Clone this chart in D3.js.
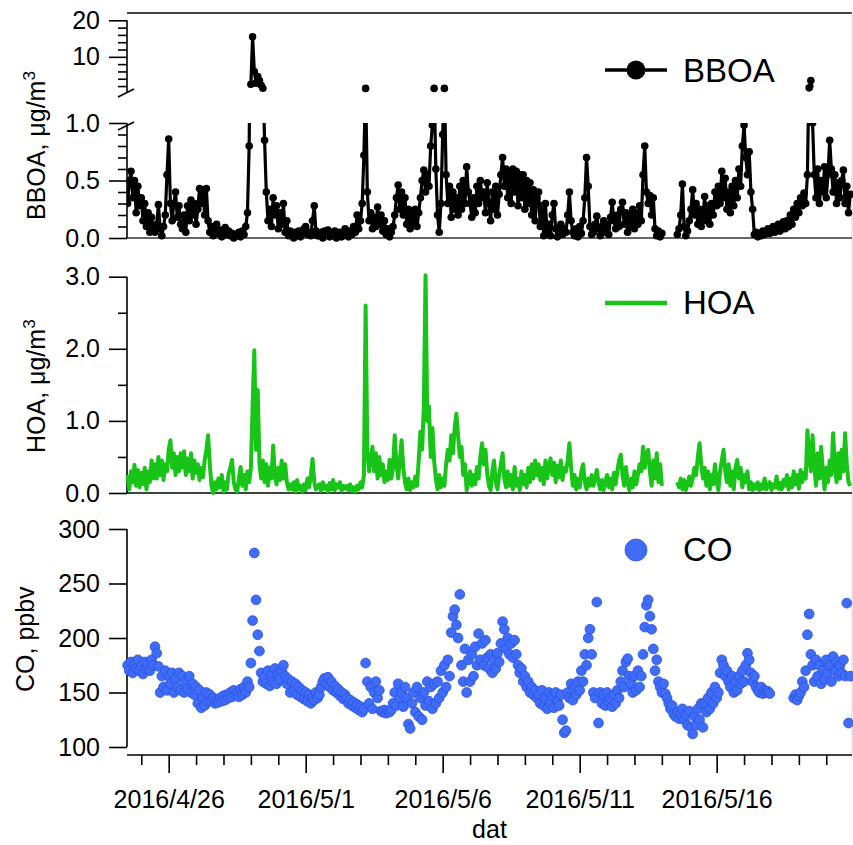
<!DOCTYPE html>
<html><head><meta charset="utf-8">
<script src="https://cdn.jsdelivr.net/npm/d3@7"></script>
<style>
body{margin:0;background:#fff}
svg{display:block}
text{font-family:"Liberation Sans",Arial,Helvetica,sans-serif;fill:#000}
</style>
</head><body>
<svg id="chart" width="853" height="845"></svg>
<script>
// ---- time axis (categories) ----
const startTime = new Date(2016, 3, 24, 12, 0);   // first sample, 2016/4/24 12:00
const stepMinutes = 90;                           // sampling step of the arrays below

// ---- series values (one row = one day, 16 samples) ----
const bboa = [
  0.30,0.50,0.58,0.35,0.50,0.22,0.45,0.28,0.35,0.15,0.30,0.10,0.22,0.05,0.18,0.08,
  0.05,0.12,0.29,0.08,0.02,0.10,0.20,0.55,0.86,0.30,0.15,0.30,0.40,0.18,0.28,0.12,
  0.08,0.20,0.05,0.28,0.15,0.33,0.20,0.30,0.12,0.25,0.43,0.30,0.42,0.20,0.43,0.15,
  0.05,0.10,0.02,0.08,0.12,0.04,0.07,0.01,0.05,0.09,0.03,0.06,0.02,0.04,0.00,0.03,
  0.02,0.05,0.01,0.06,0.03,0.10,0.22,0.80,2.5,15.5,6.0,2.8,4.6,3.5,2.2,1.4,
  0.85,0.40,0.15,0.25,0.10,0.35,0.20,0.28,0.08,0.22,0.12,0.30,0.05,0.15,0.02,0.06,
  0.03,0.00,0.05,0.02,0.06,0.01,0.04,0.08,0.10,0.03,0.05,0.02,0.15,0.28,0.06,0.02,
  0.02,0.05,0.00,0.06,0.03,0.07,0.01,0.04,0.02,0.06,0.00,0.03,0.05,0.01,0.04,0.08,
  0.04,0.01,0.06,0.03,0.10,0.05,0.20,0.08,0.15,0.30,0.72,1.35,0.40,0.15,0.22,0.08,
  0.18,0.10,0.27,0.12,0.20,0.06,0.15,0.03,0.08,0.01,0.05,0.10,0.20,0.35,0.46,0.25,
  0.40,0.20,0.35,0.12,0.25,0.08,0.20,0.12,0.25,0.10,0.22,0.35,0.50,0.59,0.40,0.55,
  0.45,0.80,0.98,1.35,0.60,0.20,0.05,0.30,0.90,1.35,0.55,0.30,0.45,0.18,0.40,0.25,
  0.35,0.20,0.45,0.25,0.50,0.30,0.62,0.40,0.30,0.18,0.35,0.22,0.45,0.30,0.50,0.35,
  0.40,0.22,0.48,0.30,0.15,0.40,0.25,0.45,0.20,0.38,0.55,0.70,0.45,0.60,0.35,0.58,
  0.30,0.60,0.40,0.58,0.28,0.55,0.35,0.55,0.25,0.50,0.30,0.48,0.20,0.42,0.15,0.35,
  0.40,0.10,0.28,0.02,0.30,0.05,0.12,0.02,0.20,0.30,0.08,0.01,0.06,0.12,0.03,0.08,
  0.05,0.20,0.40,0.15,0.05,0.02,0.08,0.01,0.10,0.04,0.15,0.35,0.70,0.45,0.10,0.03,
  0.05,0.12,0.19,0.08,0.02,0.10,0.15,0.05,0.12,0.03,0.18,0.31,0.15,0.08,0.20,0.10,
  0.25,0.31,0.12,0.22,0.05,0.20,0.10,0.25,0.08,0.22,0.12,0.28,0.15,0.55,0.80,0.40,
  0.30,0.37,0.20,0.35,0.08,0.02,0.06,0.01,0.04,null,null,null,null,null,null,null,
  null,0.03,0.08,0.20,0.47,0.10,0.02,0.06,0.15,0.25,0.42,0.20,0.30,0.12,0.25,0.10,
  0.20,0.36,0.15,0.28,0.12,0.30,0.20,0.40,0.28,0.45,0.30,0.58,0.35,0.52,0.25,0.40,
  0.22,0.45,0.28,0.50,0.35,0.60,0.45,0.80,0.98,0.70,0.55,0.75,0.40,0.25,0.03,0.05,
  0.01,0.04,0.02,0.06,0.03,0.05,0.08,0.04,0.07,0.10,0.05,0.09,0.12,0.06,0.10,0.14,
  0.08,0.15,0.10,0.20,0.12,0.25,0.18,0.30,0.22,0.35,0.28,0.39,0.30,0.55,1.50,3.50,
  1.00,0.55,0.35,0.60,0.30,0.50,0.40,0.62,0.35,0.55,0.85,0.60,0.40,0.55,0.30,0.48,
  0.35,0.50,0.59,0.30,0.45,0.22,0.38
];
const hoa = [
  0.25,0.05,0.30,0.15,0.39,0.10,0.32,0.08,0.28,0.12,0.35,0.05,0.30,0.15,0.45,0.20,
  0.40,0.20,0.50,0.25,0.45,0.18,0.40,0.30,0.60,0.73,0.35,0.55,0.25,0.50,0.30,0.55,
  0.35,0.58,0.25,0.48,0.30,0.55,0.20,0.45,0.28,0.40,0.18,0.35,0.22,0.45,0.60,0.80,
  0.40,0.10,0.00,0.15,0.05,0.20,0.08,0.25,0.02,0.15,0.05,0.27,0.35,0.46,0.15,0.05,
  0.02,0.20,0.36,0.10,0.25,0.05,0.30,0.15,0.35,1.20,1.98,0.60,1.43,0.40,0.20,0.45,
  0.15,0.40,0.10,0.35,0.20,0.66,0.25,0.12,0.35,0.18,0.45,0.20,0.40,0.15,0.05,0.12,
  0.05,0.15,0.02,0.18,0.05,0.10,0.02,0.12,0.04,0.20,0.08,0.25,0.47,0.15,0.05,0.10,
  0.12,0.03,0.15,0.06,0.10,0.02,0.14,0.05,0.18,0.04,0.12,0.08,0.15,0.03,0.10,0.06,
  0.10,0.04,0.12,0.03,0.08,0.02,0.10,0.05,0.15,0.08,0.25,2.60,0.60,0.30,0.45,0.64,
  0.30,0.55,0.20,0.50,0.25,0.40,0.15,0.30,0.18,0.46,0.20,0.35,0.80,0.40,0.20,0.45,
  0.73,0.35,0.15,0.05,0.20,0.04,0.15,0.08,0.23,0.10,0.45,0.85,0.60,1.20,3.02,1.00,
  1.20,0.50,0.90,0.45,0.20,0.05,0.25,0.08,0.20,0.10,0.40,0.60,0.45,0.80,0.55,0.90,
  1.10,0.80,0.50,0.64,0.25,0.40,0.04,0.15,0.30,0.10,0.25,0.12,0.36,0.20,0.50,0.69,
  0.40,0.60,0.27,0.10,0.04,0.30,0.45,0.15,0.05,0.25,0.40,0.55,0.20,0.08,0.30,0.10,
  0.25,0.05,0.36,0.10,0.20,0.04,0.30,0.12,0.25,0.08,0.35,0.15,0.40,0.20,0.45,0.25,
  0.40,0.18,0.35,0.12,0.45,0.20,0.38,0.48,0.25,0.42,0.15,0.38,0.22,0.45,0.18,0.35,
  0.30,0.45,0.69,0.35,0.10,0.25,0.05,0.20,0.08,0.30,0.40,0.15,0.05,0.20,0.10,0.25,
  0.10,0.20,0.32,0.15,0.05,0.18,0.04,0.15,0.25,0.08,0.20,0.05,0.28,0.12,0.30,0.45,
  0.53,0.25,0.10,0.36,0.15,0.04,0.20,0.08,0.30,0.12,0.25,0.40,0.30,0.64,0.35,0.55,
  0.60,0.30,0.10,0.45,0.20,0.55,0.15,0.40,0.10,null,null,null,null,null,null,null,
  null,0.15,0.08,0.20,0.05,0.18,0.04,0.12,0.23,0.10,0.20,0.35,0.25,0.50,0.69,0.40,
  0.20,0.35,0.10,0.30,0.05,0.25,0.12,0.40,0.15,0.04,0.30,0.45,0.60,0.30,0.15,0.40,
  0.10,0.30,0.05,0.35,0.46,0.20,0.35,0.08,0.25,0.15,0.30,0.05,0.15,0.04,0.12,0.06,
  0.15,0.04,0.12,0.06,0.20,0.05,0.10,0.15,0.04,0.12,0.08,0.23,0.06,0.14,0.05,0.18,
  0.10,0.25,0.05,0.20,0.08,0.30,0.12,0.25,0.06,0.32,0.15,0.28,0.20,0.87,0.50,0.30,
  0.80,0.40,0.10,0.55,0.20,0.64,0.30,0.05,0.35,0.15,0.45,0.25,0.83,0.40,0.15,0.55,
  0.20,0.60,0.30,0.83,0.40,0.15,0.10
];
const co = [
  175,170,178,168,176,172,180,170,174,167,178,172,176,170,180,175,
  192,186,174,150,165,155,170,152,165,158,168,150,162,155,168,152,
  165,150,160,153,165,150,158,148,155,140,152,136,145,138,150,142,
  148,142,145,140,143,141,145,142,147,143,148,145,150,146,152,148,
  150,146,153,148,155,150,160,155,177,216,278,235,203,188,168,160,
  164,158,170,156,166,160,172,158,168,162,170,175,165,158,162,150,
  160,152,158,148,155,146,152,144,150,142,148,140,146,143,150,145,
  148,155,160,163,158,164,155,160,152,156,150,153,147,150,144,148,
  145,140,143,138,141,136,139,134,137,132,135,177,160,140,155,135,
  150,160,145,152,133,132,134,131,133,132,134,140,150,138,158,145,
  150,137,155,145,121,117,140,150,132,155,128,145,125,150,138,160,
  142,155,135,158,140,160,145,170,150,175,155,180,165,205,220,226,
  212,200,240,175,160,190,150,180,160,185,165,192,175,204,180,195,
  175,198,182,172,185,168,180,172,186,178,195,215,208,190,200,185,
  195,182,198,185,175,168,172,160,165,155,160,150,155,148,152,145,
  148,140,152,138,145,135,150,140,147,136,150,142,138,148,125,113,
  115,150,145,158,143,155,148,160,152,170,160,185,175,200,208,185,
  150,145,233,122,150,140,148,138,150,142,145,137,148,140,152,145,
  160,170,155,178,181,165,158,150,165,152,170,155,165,185,210,230,
  235,220,208,190,170,180,160,155,150,158,149,145,140,135,138,130,
  128,132,126,130,135,125,130,120,133,118,112,128,120,135,125,140,
  118,140,132,145,135,150,140,155,145,150,168,180,175,165,170,160,
  155,165,150,160,152,165,158,170,160,175,186,180,168,160,165,155,
  152,150,155,149,152,150,151,149,null,null,null,null,null,null,null,null,
  null,null,null,null,null,145,148,143,147,150,160,155,170,203,222,185,
  175,160,180,165,175,158,170,162,180,168,175,160,183,170,178,165,
  175,168,180,165,232,122,165
];

// ---- axis ticks ----
const xMajorDates  = [new Date(2016,3,26), new Date(2016,4,1), new Date(2016,4,6), new Date(2016,4,11), new Date(2016,4,16)];
const xMajorLabels = ["2016/4/26", "2016/5/1", "2016/5/6", "2016/5/11", "2016/5/16"];
const bboaLowTicks   = [0, 0.5, 1.0];
const bboaLowMinor   = [0.1,0.2,0.3,0.4,0.6,0.7,0.8,0.9];
const bboaHighTicks  = [10, 20];
const bboaHighMinor  = [2,4,6,8,12,14,16,18];
const hoaTicks  = [0, 1, 2, 3];
const hoaMinor  = [0.5, 1.5, 2.5];
const coTicks   = [100, 150, 200, 250, 300];

// ---- build data ----
const times = bboa.map((_, i) => d3.timeMinute.offset(startTime, i * stepMinutes));
const dBBOA = bboa.map((v, i) => ({t: times[i], v}));
const dHOA  = hoa.map((v, i) => ({t: times[i], v}));
const dCO   = co.map((v, i) => ({t: times[i], v}));

const svg = d3.select("#chart");
const L = 127, R = 852;

const x = d3.scaleTime()
  .domain([new Date(2016,3,24,11,29), new Date(2016,4,20,22,33)])
  .range([L, R]);

const yLo = d3.scaleLinear().domain([0, 1]).range([238, 123]);
const yHi = d3.scaleLinear().domain([1, 22]).range([89.7, 13]);
const yH  = d3.scaleLinear().domain([0, 3]).range([493, 276.7]);
const yC  = d3.scaleLinear().domain([100, 300]).range([747, 529]);

const AX = 1.6;
const defs = svg.append("defs");
defs.append("clipPath").attr("id","clipHiLine").append("rect").attr("x",L).attr("y",13).attr("width",R-L+2).attr("height",74.5);
defs.append("clipPath").attr("id","clipHiDot").append("rect").attr("x",L).attr("y",13).attr("width",R-L+2).attr("height",81);
defs.append("clipPath").attr("id","clipLo").append("rect").attr("x",L).attr("y",123).attr("width",R-L+2).attr("height",121);

// frame pieces
svg.append("line").attr("x1",L).attr("x2",R).attr("y1",13).attr("y2",13).attr("stroke","#000").attr("stroke-width",AX);
svg.append("line").attr("x1",R).attr("x2",R).attr("y1",13).attr("y2",755).attr("stroke","#d0d0d0").attr("stroke-width",1);
svg.append("line").attr("x1",L).attr("x2",R).attr("y1",238).attr("y2",238).attr("stroke","#333").attr("stroke-width",AX);
svg.append("line").attr("x1",L).attr("x2",R).attr("y1",493).attr("y2",493).attr("stroke","#000").attr("stroke-width",AX);

function leftAxis(scale, major, minor, fmt, y0, y1) {
  const g = svg.append("g").attr("transform", `translate(${L},0)`);
  g.call(d3.axisLeft(scale).tickValues(major).tickSize(18).tickSizeOuter(0).tickPadding(9).tickFormat(fmt));
  g.select(".domain").remove();
  if (minor && minor.length) {
    const gm = svg.append("g").attr("transform", `translate(${L},0)`);
    gm.call(d3.axisLeft(scale).tickValues(minor).tickSize(9).tickSizeOuter(0).tickFormat(""));
    gm.select(".domain").remove();
    gm.selectAll("line").attr("stroke","#000").attr("stroke-width",AX);
  }
  g.selectAll("line").attr("stroke","#000").attr("stroke-width",AX);
  g.selectAll("text").style("font-size","25px").attr("fill","#000");
  svg.append("line").attr("x1",L).attr("x2",L).attr("y1",y0).attr("y2",y1).attr("stroke","#000").attr("stroke-width",AX);
}
leftAxis(yHi, bboaHighTicks, bboaHighMinor, d3.format("d"), yHi(20), 92);
leftAxis(yLo, bboaLowTicks, bboaLowMinor, d3.format(".1f"), 123, 238);
leftAxis(yH, hoaTicks, hoaMinor, d3.format(".1f"), yH(3), 493);
leftAxis(yC, coTicks, [], d3.format("d"), yC(300), yC(100));

// axis break marks
svg.append("line").attr("x1",118).attr("y1",97).attr("x2",134).attr("y2",89).attr("stroke","#000").attr("stroke-width",AX);
svg.append("line").attr("x1",118).attr("y1",130).attr("x2",134).attr("y2",122).attr("stroke","#000").attr("stroke-width",AX);

// x axis
const gx = svg.append("g").attr("transform","translate(0,755)");
gx.call(d3.axisBottom(x).tickValues(xMajorDates).tickSize(18).tickSizeOuter(0).tickPadding(17).tickFormat((d,i)=>xMajorLabels[i]));
gx.select(".domain").remove();
gx.selectAll("line").attr("stroke","#000").attr("stroke-width",AX);
gx.selectAll("text").style("font-size","25px");
const minorDays = d3.timeDay.range(x.domain()[0], x.domain()[1]).filter(d => !xMajorDates.some(m => +m === +d));
const gxm = svg.append("g").attr("transform","translate(0,755)");
gxm.call(d3.axisBottom(x).tickValues(minorDays).tickSize(10).tickSizeOuter(0).tickFormat(""));
gxm.select(".domain").remove();
gxm.selectAll("line").attr("stroke","#000").attr("stroke-width",AX);
svg.append("line").attr("x1",L).attr("x2",R).attr("y1",755).attr("y2",755).attr("stroke","#000").attr("stroke-width",AX);
svg.append("text").attr("x",(L+R)/2).attr("y",838).attr("text-anchor","middle").style("font-size","25px").text("dat");

// y titles
function yTitle(xb, ybottom, main, sup) {
  const t = svg.append("text").attr("transform",`translate(${xb},${ybottom}) rotate(-90)`).style("font-size","25px");
  t.append("tspan").text(main);
  if (sup) t.append("tspan").attr("dy","-0.6em").style("font-size","17px").text(sup);
}
yTitle(45, 220, "BBOA, μg/m", "3");
yTitle(45, 453, "HOA, μg/m", "3");
yTitle(34, 692, "CO, ppbv", null);

// ---- BBOA (broken axis: lower copy and upper copy) ----
const line = (ys) => d3.line().defined(d => d.v != null).x(d => x(d.t)).y(d => ys(d.v));
const valid = dBBOA.filter(d => d.v != null);
const BW = 3.2, BR = 3.8;

const gLo = svg.append("g").attr("clip-path","url(#clipLo)");
gLo.append("path").datum(dBBOA).attr("d", line(yLo)).attr("fill","none").attr("stroke","#000").attr("stroke-width",BW).attr("stroke-linejoin","round");
gLo.selectAll("circle").data(valid).join("circle")
  .attr("cx", d => x(d.t)).attr("cy", d => yLo(d.v)).attr("r", BR).attr("fill","#000");

svg.append("g").attr("clip-path","url(#clipHiLine)")
  .append("path").datum(dBBOA).attr("d", line(yHi)).attr("fill","none").attr("stroke","#000").attr("stroke-width",BW).attr("stroke-linejoin","round");
svg.append("g").attr("clip-path","url(#clipHiDot)").selectAll("circle").data(valid.filter(d => d.v > 1)).join("circle")
  .attr("cx", d => x(d.t)).attr("cy", d => yHi(d.v)).attr("r", BR).attr("fill","#000");

// ---- HOA ----
svg.append("path").datum(dHOA).attr("d", line(yH)).attr("fill","none")
  .attr("stroke","#17c417").attr("stroke-width",4).attr("stroke-linejoin","round");

// ---- CO ----
svg.append("g").selectAll("circle").data(dCO.filter(d => d.v != null)).join("circle")
  .attr("cx", d => x(d.t)).attr("cy", d => yC(d.v)).attr("r", 4.9)
  .attr("fill","#3f6cf8").attr("stroke","#2a52e0").attr("stroke-width",0.8);

// ---- legends ----
svg.append("line").attr("x1",605).attr("x2",667).attr("y1",70).attr("y2",70).attr("stroke","#000").attr("stroke-width",3.5);
svg.append("circle").attr("cx",636).attr("cy",70).attr("r",9.5).attr("fill","#000");
svg.append("text").attr("x",683).attr("y",82).style("font-size","33px").text("BBOA");

svg.append("line").attr("x1",605).attr("x2",667).attr("y1",303).attr("y2",303).attr("stroke","#17c417").attr("stroke-width",4.5);
svg.append("text").attr("x",683).attr("y",314).style("font-size","33px").text("HOA");

svg.append("circle").attr("cx",636).attr("cy",550).attr("r",11).attr("fill","#3f6cf8").attr("stroke","#2a52e0").attr("stroke-width",0.8);
svg.append("text").attr("x",683).attr("y",561).style("font-size","33px").text("CO");
</script>
</body></html>
